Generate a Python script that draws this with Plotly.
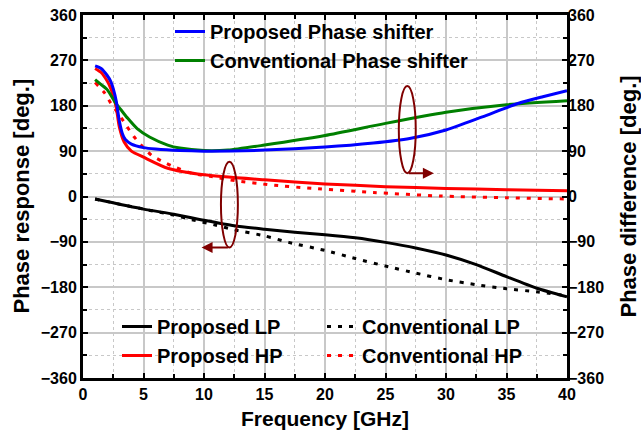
import plotly.graph_objects as go

# ---------------- data ----------------
blue_x = [1, 1.5, 2, 2.3, 2.5, 2.75, 3, 3.25, 3.5, 4, 5, 6, 8, 10, 15, 20, 24, 27, 30, 33, 36, 38, 40]
blue_y = [259, 254, 240, 228, 214, 189, 150, 125, 113, 104, 97, 94, 91, 90, 92, 98, 106, 115, 132, 158, 185, 198, 210]

green_x = [1, 1.5, 2, 2.7, 3.2, 3.7, 4.5, 5.5, 7, 8, 10, 12, 15, 20, 25, 30, 35, 40]
green_y = [232, 222, 212, 185, 170, 155, 134, 118, 102, 96, 91, 92, 102, 121, 145, 167, 182, 190]

php_x = [1, 1.5, 2, 2.3, 2.5, 2.75, 3, 3.4, 4, 5, 7, 10, 15, 20, 25, 30, 35, 40]
php_y = [254, 246, 229, 214, 200, 176, 138, 108, 90, 78, 56, 43, 33, 25, 19.5, 16, 13.5, 11.5]

chp_x = [1, 1.8, 2.3, 3, 3.6, 4.2, 5, 5.7, 6.7, 7.5, 9, 10.5, 12.7, 15.5, 19, 24, 29.5, 35, 40]
chp_y = [226, 205, 185, 162, 140, 119, 97, 81, 68, 59, 46, 40, 31, 23, 16, 8, 1, -2.5, -5]

plp_x = [1, 5, 7.5, 10, 12.5, 15, 17.5, 20, 22.5, 25, 27.5, 30, 32.5, 35, 37.5, 40]
plp_y = [-5, -25, -35, -47, -58, -65, -71, -76, -82, -91, -102, -116, -135, -159, -182, -199]

clp_x = [1, 5, 7.5, 9, 11, 12.5, 15, 17, 20, 22.5, 25, 27.5, 30, 32.5, 35, 37.5, 40]
clp_y = [-5, -25, -37, -46, -57, -66, -78, -91, -107, -123, -138, -152, -165, -175, -183, -189, -197]

x_ticks = [0, 5, 10, 15, 20, 25, 30, 35, 40]
y_ticks = [-360, -270, -180, -90, 0, 90, 180, 270, 360]

# ---------------- figure ----------------
FONT = "Arial, 'Liberation Sans', sans-serif"
DOT = "4px,7px"
fig = go.Figure()

fig.add_trace(go.Scatter(x=clp_x, y=clp_y, mode="lines", name="Conventional LP",
                         line=dict(color="black", width=3, dash=DOT, shape="spline", smoothing=0.6),
                         legend="legend3"))
fig.add_trace(go.Scatter(x=chp_x, y=chp_y, mode="lines", name="Conventional HP",
                         line=dict(color="#ff0000", width=3, dash=DOT, shape="spline", smoothing=0.6),
                         legend="legend3"))
fig.add_trace(go.Scatter(x=plp_x, y=plp_y, mode="lines", name="Proposed LP",
                         line=dict(color="black", width=3, shape="spline", smoothing=0.6),
                         legend="legend2", legendrank=1))
fig.add_trace(go.Scatter(x=php_x, y=php_y, mode="lines", name="Proposed HP",
                         line=dict(color="#ff0000", width=3, shape="spline", smoothing=0.6),
                         legend="legend2", legendrank=2))
fig.add_trace(go.Scatter(x=green_x, y=green_y, mode="lines", name="Conventional Phase shifter",
                         line=dict(color="#008000", width=3, shape="spline", smoothing=0.6),
                         yaxis="y2", legend="legend", legendrank=2))
fig.add_trace(go.Scatter(x=blue_x, y=blue_y, mode="lines", name="Proposed Phase shifter",
                         line=dict(color="#0000ff", width=3, shape="spline", smoothing=0.6),
                         yaxis="y2", legend="legend", legendrank=1))

MAROON = "#800000"
# annotation ellipses
fig.add_shape(type="circle", xref="x", yref="y", x0=11.4, x1=12.8, y0=-101, y1=69,
              line=dict(color=MAROON, width=2))
fig.add_shape(type="circle", xref="x", yref="y", x0=26.1, x1=27.5, y0=46, y1=219,
              line=dict(color=MAROON, width=2))
fig.add_annotation(x=9.8, y=-101, ax=12.1, ay=-101, xref="x", yref="y", axref="x", ayref="y",
                   text="", showarrow=True, arrowhead=2, arrowsize=1.1, arrowwidth=2, arrowcolor=MAROON)
fig.add_annotation(x=29.0, y=46, ax=26.8, ay=46, xref="x", yref="y", axref="x", ayref="y",
                   text="", showarrow=True, arrowhead=2, arrowsize=1.1, arrowwidth=2, arrowcolor=MAROON)

W, H = 641, 437
L, R, T, B = 83, 74, 15, 59
pw, ph = W - L - R, H - T - B

def px2paper_x(px):
    return (px - L) / pw

def px2paper_y(py):
    return (H - B - py) / ph

# axis titles
fig.add_annotation(text="<b>Frequency [GHz]</b>", x=0.5, y=px2paper_y(419), xref="paper", yref="paper",
                   xanchor="center", yanchor="middle", showarrow=False,
                   font=dict(family=FONT, size=21, color="black"))
fig.add_annotation(text="<b>Phase response [deg.]</b>", x=px2paper_x(21), y=0.5, xref="paper", yref="paper",
                   xanchor="center", yanchor="middle", showarrow=False,
                   font=dict(family=FONT, size=22, color="black"), textangle=-90)
fig.add_annotation(text="<b>Phase difference [deg.]</b>", x=px2paper_x(628), y=0.5, xref="paper", yref="paper",
                   xanchor="center", yanchor="middle", showarrow=False,
                   font=dict(family=FONT, size=22, color="black"), textangle=-90)

GRID = "#c8c8c8"
TICKFONT = dict(family=FONT, size=16, color="black", weight="bold")
axis_common = dict(
    showline=True, linewidth=3, linecolor="black",
    ticks="inside", ticklen=5, tickwidth=2, tickcolor="black",
    showgrid=True, gridcolor=GRID, gridwidth=1.5,
    zeroline=False,
    tickfont=TICKFONT,
)
LEGFONT = dict(family=FONT, size=20, color="black", weight="bold")

fig.update_layout(
    width=W, height=H,
    margin=dict(l=L, r=R, t=T, b=B, autoexpand=False),
    paper_bgcolor="white", plot_bgcolor="white",
    showlegend=True,
    xaxis=dict(range=[0, 40], tickvals=x_ticks, mirror="ticks",
               minor=dict(dtick=2.5, tick0=0, showgrid=True, gridcolor=GRID, griddash="dot",
                          gridwidth=1, ticks="inside", ticklen=4, tickwidth=2, tickcolor="black"),
               **axis_common),
    yaxis=dict(range=[-360, 360], tickvals=y_ticks, mirror="ticks",
               minor=dict(dtick=45, tick0=0, showgrid=True, gridcolor=GRID, griddash="dot",
                          gridwidth=1, ticks="inside", ticklen=4, tickwidth=2, tickcolor="black"),
               **axis_common),
    yaxis2=dict(range=[-360, 360], tickvals=y_ticks, overlaying="y", side="right",
                showgrid=False, zeroline=False, showline=False, ticks="",
                tickfont=TICKFONT),
    legend=dict(x=px2paper_x(170), y=px2paper_y(12), xanchor="left", yanchor="top",
                bgcolor="rgba(0,0,0,0)", borderwidth=0, traceorder="normal", font=LEGFONT),
    legend2=dict(x=px2paper_x(117), y=px2paper_y(307), xanchor="left", yanchor="top",
                 bgcolor="rgba(0,0,0,0)", borderwidth=0, traceorder="normal", font=LEGFONT),
    legend3=dict(x=px2paper_x(322), y=px2paper_y(307), xanchor="left", yanchor="top",
                 bgcolor="rgba(0,0,0,0)", borderwidth=0, traceorder="normal", font=LEGFONT),
)

fig.write_html("out.html", config={"displayModeBar": False},
               post_script="document.body.style.margin='0';")
